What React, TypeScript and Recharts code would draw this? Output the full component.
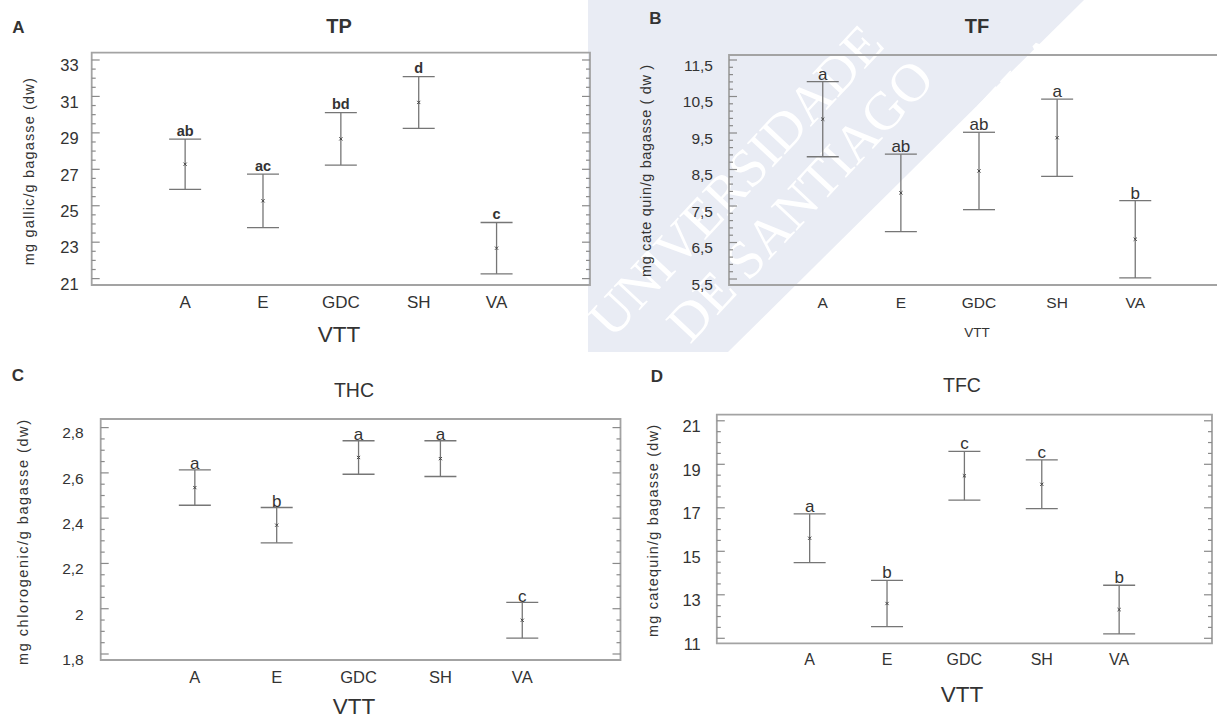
import React from 'react';
import { ScatterChart, Scatter, XAxis, YAxis, ErrorBar, ReferenceArea } from 'recharts';

// ---------- data ----------
const categories = ['A', 'E', 'GDC', 'SH', 'VA'];
const xPositions = [0, 1, 2, 3, 4];

const tpMeans = [27.28, 25.27, 28.67, 30.67, 22.67];
const tpErr = [1.38, 1.47, 1.44, 1.42, 1.41];
const tpLetters = ['ab', 'ac', 'bd', 'd', 'c'];
const tpTicks = [21, 23, 25, 27, 29, 31, 33];

const tfMeans = [9.88, 7.86, 8.46, 9.37, 6.59];
const tfErr = [1.03, 1.06, 1.06, 1.06, 1.06];
const tfLetters = ['a', 'ab', 'ab', 'a', 'b'];
const tfTicks = [5.5, 6.5, 7.5, 8.5, 9.5, 10.5, 11.5];

const thcMeans = [2.535, 2.369, 2.668, 2.663, 1.949];
const thcErr = [0.078, 0.078, 0.074, 0.079, 0.079];
const thcLetters = ['a', 'b', 'a', 'a', 'c'];
const thcTicks = [1.8, 2.0, 2.2, 2.4, 2.6, 2.8];

const tfcMeans = [15.6, 12.6, 18.47, 18.08, 12.32];
const tfcErr = [1.12, 1.06, 1.12, 1.12, 1.12];
const tfcLetters = ['a', 'b', 'c', 'c', 'b'];
const tfcTicks = [11, 13, 15, 17, 19, 21];

// ---------- style ----------
const FONT = '"Liberation Sans", Arial, Helvetica, sans-serif';
const TEXT = '#333333';
const BOX = '#a3a3a3';
const TICK = '#8a8a8a';
const BAR = '#767676';
const WM = '#e9ecf4';

function minorTicks(majors: number[], parts: number): number[] {
  const out: number[] = [];
  for (let i = 0; i < majors.length - 1; i++) {
    const a = majors[i];
    const b = majors[i + 1];
    for (let k = 1; k < parts; k++) {
      out.push(Math.round((a + ((b - a) * k) / parts) * 1e6) / 1e6);
    }
  }
  return out;
}

const fmt = (v: number) => String(Math.round(v * 1000) / 1000).replace('.', ',');

type PanelCfg = {
  means: number[];
  errs: number[];
  letters: string[];
  majors: number[];
  minorParts: number;
  yDomain: [number, number];
  xDomain: [number, number];
  frame: { x: number; y: number; w: number; h: number };
  box: { l: number; t: number; r: number; b: number };
  tickFont: number;
  tickGap: number;
  catFont: number;
  catDy: number;
  letterFont: number;
  letterBold: boolean;
  letterOff: number;
};

const panels: PanelCfg[] = [
  {
    means: tpMeans, errs: tpErr, letters: tpLetters, majors: tpTicks, minorParts: 4,
    yDomain: [20.65, 33.4], xDomain: [-1.2, 5.2],
    frame: { x: 0, y: 0, w: 608, h: 360 },
    box: { l: 91.7, t: 52.7, r: 590, b: 285 },
    tickFont: 16.5, tickGap: 13, catFont: 17, catDy: 17, letterFont: 14.5, letterBold: true, letterOff: 3.5,
  },
  {
    means: tfMeans, errs: tfErr, letters: tfLetters, majors: tfTicks, minorParts: 5,
    yDomain: [5.336, 11.637], xDomain: [-1.2, 5.2],
    frame: { x: 608, y: 0, w: 640, h: 360 },
    box: { l: 729, t: 55, r: 1229, b: 285 },
    tickFont: 15.5, tickGap: 16, catFont: 15.5, catDy: 17.5, letterFont: 17, letterBold: false, letterOff: 2,
  },
  {
    means: thcMeans, errs: thcErr, letters: thcLetters, majors: thcTicks, minorParts: 4,
    yDomain: [1.7735, 2.838], xDomain: [-1.15, 5.2],
    frame: { x: 0, y: 360, w: 640, h: 359 },
    box: { l: 100.7, t: 419, r: 620.5, b: 660 },
    tickFont: 15.5, tickGap: 17, catFont: 16.5, catDy: 16.7, letterFont: 17, letterBold: false, letterOff: 0.5,
  },
  {
    means: tfcMeans, errs: tfcErr, letters: tfcLetters, majors: tfcTicks, minorParts: 4,
    yDomain: [10.77, 21.28], xDomain: [-1.2, 5.2],
    frame: { x: 640, y: 360, w: 577, h: 359 },
    box: { l: 716.8, t: 414.7, r: 1212, b: 643.3 },
    tickFont: 16.5, tickGap: 16, catFont: 16, catDy: 15.7, letterFont: 17, letterBold: false, letterOff: 2,
  },
];

const Y_W = 50;
const X_H = 30;

function Panel({ cfg }: { cfg: PanelCfg }) {
  const { frame, box } = cfg;
  const plotW = box.r - box.l;
  const margin = {
    left: box.l - frame.x - Y_W,
    right: frame.x + frame.w - box.r,
    top: box.t - frame.y,
    bottom: frame.y + frame.h - box.b - X_H,
  };
  const data = xPositions.map((x, i) => ({ x, y: cfg.means[i], err: cfg.errs[i], name: categories[i] }));
  const labelData = xPositions.map((x, i) => ({ x, y: cfg.means[i] + cfg.errs[i], label: cfg.letters[i] }));
  const allTicks = [...cfg.majors, ...minorTicks(cfg.majors, cfg.minorParts)].sort((a, b) => a - b);

  const yTick = (props: any) => {
    const { x, y, payload } = props;
    const v = payload.value;
    const isMajor = cfg.majors.some((m) => Math.abs(m - v) < 1e-6);
    const len = isMajor ? 8 : 4;
    const rx = x + plotW;
    return (
      <g>
        <line x1={x} y1={y} x2={x + len} y2={y} stroke={TICK} strokeWidth={1.2} />
        <line x1={rx} y1={y} x2={rx - len} y2={y} stroke={TICK} strokeWidth={1.2} />
        {isMajor && (
          <text
            x={x - cfg.tickGap}
            y={y + 5.3 + cfg.tickFont * 0.36}
            textAnchor="end"
            fontSize={cfg.tickFont}
            fontFamily={FONT}
            fill={TEXT}
          >
            {fmt(v)}
          </text>
        )}
      </g>
    );
  };

  const xTick = (props: any) => {
    const { x, y, payload } = props;
    return (
      <text
        x={x}
        y={y + cfg.catDy + cfg.catFont * 0.36}
        textAnchor="middle"
        fontSize={cfg.catFont}
        fontFamily={FONT}
        fill={TEXT}
      >
        {categories[payload.value]}
      </text>
    );
  };

  const meanShape = (p: any) => {
    const { cx, cy } = p;
    return (
      <g>
        <line x1={cx - 1.6} y1={cy - 1.6} x2={cx + 1.6} y2={cy + 1.6} stroke="#444" strokeWidth={1} />
        <line x1={cx - 1.6} y1={cy + 1.6} x2={cx + 1.6} y2={cy - 1.6} stroke="#444" strokeWidth={1} />
      </g>
    );
  };

  const letterShape = (p: any) => {
    const { cx, cy, payload } = p;
    return (
      <text
        x={cx}
        y={cy - cfg.letterOff}
        textAnchor="middle"
        fontSize={cfg.letterFont}
        fontWeight={cfg.letterBold ? 700 : 400}
        fontFamily={FONT}
        fill={TEXT}
      >
        {payload.label}
      </text>
    );
  };

  return (
    <div style={{ position: 'absolute', left: frame.x, top: frame.y, width: frame.w, height: frame.h }}>
      <ScatterChart width={frame.w} height={frame.h} margin={margin}>
        <XAxis
          type="number"
          dataKey="x"
          domain={cfg.xDomain}
          ticks={xPositions}
          interval={0}
          allowDataOverflow
          axisLine={false}
          tickLine={false}
          tickSize={0}
          tickMargin={0}
          height={X_H}
          tick={xTick}
        />
        <YAxis
          type="number"
          dataKey="y"
          domain={cfg.yDomain}
          ticks={allTicks}
          interval={0}
          allowDataOverflow
          axisLine={false}
          tickLine={false}
          tickSize={0}
          tickMargin={0}
          width={Y_W}
          tick={yTick}
        />
        <ReferenceArea
          x1={cfg.xDomain[0]}
          x2={cfg.xDomain[1]}
          y1={cfg.yDomain[0]}
          y2={cfg.yDomain[1]}
          fill="none"
          stroke={BOX}
          strokeWidth={1.8}
          ifOverflow="visible"
        />
        <Scatter data={data} shape={meanShape} isAnimationActive={false}>
          <ErrorBar dataKey="err" direction="y" width={16} stroke={BAR} strokeWidth={1.3} isAnimationActive={false} />
        </Scatter>
        <Scatter data={labelData} shape={letterShape} isAnimationActive={false} />
      </ScatterChart>
    </div>
  );
}

const WM_POLY = '588,0 1084,0 728,352 588,352';

function Watermark() {
  return (
    <svg width={1217} height={719} style={{ position: 'absolute', left: 0, top: 0 }}>
      <polygon points={WM_POLY} fill={WM} />
      <g fill="#ffffff" fontFamily='"Liberation Serif", "DejaVu Serif", serif' fontSize={54}>
        <text transform="translate(612,340) rotate(-47)">UNIVERSIDADE</text>
        <text transform="translate(690,345) rotate(-47)">DE SANTIAGO</text>
        <text transform="translate(770,380) rotate(-47)">DE COMPOSTELA</text>
      </g>
    </svg>
  );
}

function Overlay() {
  const t = (x: number, y: number, s: string, size: number, bold = false) => (
    <text x={x} y={y + size * 0.36} textAnchor="middle" fontSize={size} fontWeight={bold ? 700 : 400} fontFamily={FONT} fill={TEXT}>
      {s}
    </text>
  );
  const yl = (x: number, y: number, s: string, len: number) => (
    <text
      transform={`translate(${x},${y}) rotate(-90)`}
      textAnchor="middle"
      dominantBaseline="central"
      fontSize={14.5}
      fontFamily={FONT}
      fill={TEXT}
      textLength={len}
      lengthAdjust="spacing"
    >
      {s}
    </text>
  );
  return (
    <svg width={1217} height={719} style={{ position: 'absolute', left: 0, top: 0, pointerEvents: 'none' }}>
      {t(18.5, 26.7, 'A', 17, true)}
      {t(655.5, 18.3, 'B', 17, true)}
      {t(17.8, 374.5, 'C', 17, true)}
      {t(657, 375.5, 'D', 17, true)}
      {t(339, 25.5, 'TP', 20, true)}
      {t(977, 25.8, 'TF', 20, true)}
      {t(354, 390, 'THC', 19.5)}
      {t(962, 385, 'TFC', 19.5)}
      {t(339, 333.5, 'VTT', 22.5)}
      {t(977, 332, 'VTT', 13.5)}
      {t(354, 705.5, 'VTT', 22.5)}
      {t(962, 693.5, 'VTT', 22.5)}
      {yl(28.7, 171.7, 'mg gallic/g bagasse (dw)', 187)}
      {yl(646, 171, 'mg cate quin/g bagasse ( dw )', 212)}
      {yl(23, 542.5, 'mg chlorogenic/g bagasse (dw)', 245)}
      {yl(653, 531, 'mg catequin/g bagasse (dw)', 212)}
    </svg>
  );
}

export default function App() {
  return (
    <div style={{ position: 'absolute', left: 0, top: 0, width: 1217, height: 719, overflow: 'hidden', background: '#fff' }}>
      <Watermark />
      {panels.map((p, i) => (
        <Panel key={i} cfg={p} />
      ))}
      <Overlay />
    </div>
  );
}
